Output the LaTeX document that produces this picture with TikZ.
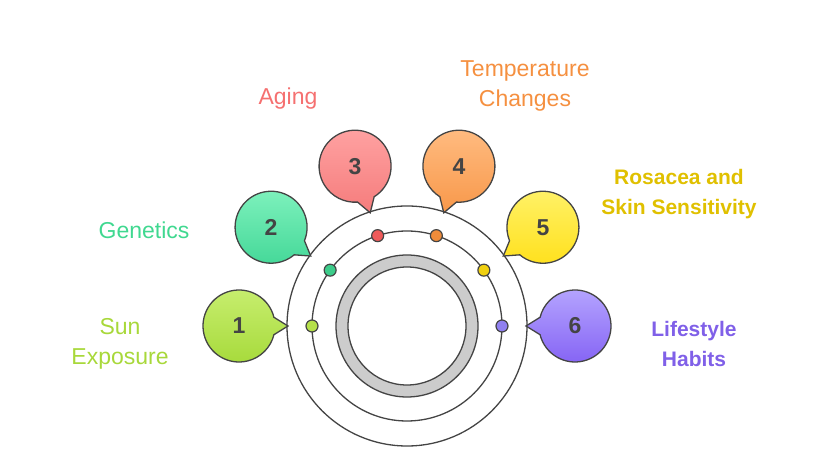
\documentclass[tikz,border=0pt]{standalone}
\usepackage{fontspec}
\setmainfont{Liberation Sans}
\usetikzlibrary{calc}
\definecolor{ink}{HTML}{444444}
\begin{document}
\begin{tikzpicture}[x=1pt,y=1pt,
  ln/.style={draw=ink,line width=1.3pt},
  num/.style={text=ink,font=\fontsize{23}{23}\selectfont\bfseries},
  lab/.style={font=\fontsize{23}{30}\selectfont,align=center},
  blab/.style={lab,font=\fontsize{21}{30}\selectfont\bfseries},
  dot/.style={circle,draw=ink,line width=1.2pt,minimum size=12pt,inner sep=0pt}]
\useasboundingbox (0,0) rectangle (816,468);
\coordinate (C) at (407,142);
\draw[ln] (C) circle[radius=120];
\draw[ln] (C) circle[radius=95];
\fill[gray!40,even odd rule] (C) circle[radius=71] (C) circle[radius=59];
\draw[ln] (C) circle[radius=71];
\draw[ln] (C) circle[radius=59];
\foreach \i/\a/\ct/\cb/\cd in {1/180/C8EE70/A6DA3A/B5E04A,2/144/80F2BE/44D898/3CCC8A,3/108/FFA3A3/F57C7C/F05A5A,4/72/FFBB80/F8984A/F08C3A,5/36/FFF26A/FFE01A/F0D010,6/0/B6A6FF/8462F4/9080F0}{
  \definecolor{ct}{HTML}{\ct}\definecolor{cb}{HTML}{\cb}\definecolor{cd}{HTML}{\cd}
  \coordinate (b\i) at ($(C)+(\a:168)$);
  \pgfmathsetmacro{\t}{\a+180}
  \draw[ln,top color=ct,bottom color=cb]
    ($(b\i)+(\t+14:36)$) arc[start angle=\t+14,delta angle=332,radius=36]
    -- ($(b\i)+(\t:49)$) -- cycle;
  \node[num] (n\i) at (b\i) {\i};
  \node[dot,fill=cd] (d\i) at ($(C)+(\a:95)$) {};
}
\node[lab,text={rgb,255:red,168;green,216;blue,58}] (l1) at (120,124) {Sun\\Exposure};
\node[lab,text={rgb,255:red,64;green,216;blue,144}] (l2) at (144,238) {Genetics};
\node[lab,text={rgb,255:red,245;green,112;blue,112}] (l3) at (288,369) {Aging};
\node[lab,text={rgb,255:red,245;green,144;blue,64}] (l4) at (525,382) {Temperature\\Changes};
\node[blab,text={rgb,255:red,224;green,192;blue,0}] (l5) at (679,274) {Rosacea and\\Skin Sensitivity};
\node[blab,text={rgb,255:red,128;green,96;blue,232}] (l6) at (694,124) {Lifestyle\\Habits};
\end{tikzpicture}
\end{document}
